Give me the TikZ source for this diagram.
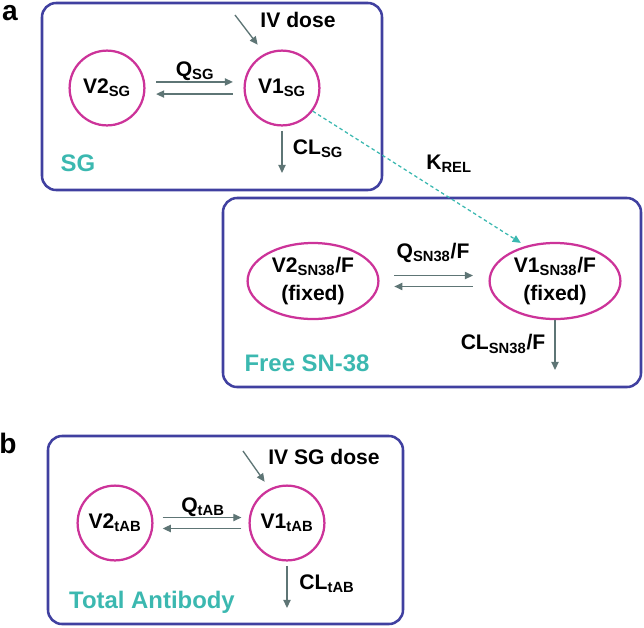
\documentclass[tikz,border=0pt]{standalone}
\usepackage{fontspec}
\setmainfont{Liberation Sans}
\usepackage{xcolor}
\usetikzlibrary{arrows.meta,shapes.geometric,positioning}
\definecolor{boxblue}{RGB}{64,64,160}
\definecolor{compmag}{RGB}{204,51,153}
\definecolor{flowgray}{RGB}{94,117,117}
\definecolor{tealtxt}{RGB}{59,184,176}

\begin{document}
\begin{tikzpicture}[x=0.025cm,y=-0.025cm,
  every node/.style={font=\fontsize{15}{17}\selectfont\bfseries},
  panel/.style={draw=boxblue,line width=1.8pt,rounded corners=10pt},
  comp/.style={draw=compmag,line width=1.6pt,circle,minimum size=1.87cm,inner sep=0pt},
  compell/.style={draw=compmag,line width=1.6pt,ellipse,minimum width=3.27cm,
    minimum height=1.9cm,inner sep=0pt,align=center,font=\fontsize{15}{20}\selectfont\bfseries},
  flow/.style={draw=flowgray,line width=0.95pt,-{Triangle[length=5.8pt,width=5.2pt]}},
  krel/.style={draw=tealtxt,line width=0.9pt,dash pattern=on 2.5pt off 2pt,
    -{Triangle[length=5.8pt,width=5.2pt]}},
  cmpname/.style={text=tealtxt,font=\fontsize{17}{19}\selectfont\bfseries},
  panelno/.style={font=\fontsize{20}{22}\selectfont\bfseries}]
\useasboundingbox (0,0) rectangle (644,627);

% Panel a -- SG
\node[panelno] (lbla) at (10,13) {a};
\draw[panel] (42,3) rectangle (382,190);
\node[comp] (v2sg) at (107,88) {V2\textsubscript{SG}};
\node[comp] (v1sg) at (282,88) {V1\textsubscript{SG}};
\node (qsg) at (195,71) {Q\textsubscript{SG}};
\node (ivdose) at (298,20) {IV dose};
\node (clsg) at (318,149) {CL\textsubscript{SG}};
\node[cmpname] (namesg) at (78,163) {SG};
\coordinate (ivsg) at (235,15);
\coordinate (outsg) at (282,173);
\draw[flow] (ivsg) -- (v1sg.117) [shorten >=8pt];
\draw[flow,shorten <=7.5pt,shorten >=7.5pt] ([yshift=4.3pt]v2sg.east) -- ([yshift=4.3pt]v1sg.west);
\draw[flow,shorten <=7.5pt,shorten >=7.5pt] ([yshift=-4.3pt]v1sg.west) -- ([yshift=-4.3pt]v2sg.east);
\draw[flow,shorten <=3pt] (v1sg.south) -- (outsg);

% Panel a -- free SN-38
\draw[panel] (223,198) rectangle (641,387);
\node[compell] (v2sn) at (313,281) {V2\textsubscript{SN38}/F\\(fixed)};
\node[compell] (v1sn) at (555,281) {V1\textsubscript{SN38}/F\\(fixed)};
\node (qsn) at (433,253) {Q\textsubscript{SN38}/F};
\node (clsn) at (503,344) {CL\textsubscript{SN38}/F};
\node[cmpname] (namesn) at (307,363) {Free SN-38};
\node (lblkrel) at (449,164) {K\textsubscript{REL}};
\coordinate (outsn) at (555,370);
\draw[flow,shorten <=10.5pt,shorten >=11pt] ([yshift=3.9pt]v2sn.east) -- ([yshift=3.9pt]v1sn.west);
\draw[flow,shorten <=11pt,shorten >=10.5pt] ([yshift=-3.9pt]v1sn.west) -- ([yshift=-3.9pt]v2sn.east);
\draw[flow] (v1sn.south) -- (outsn);
\draw[krel,shorten >=4pt] (v1sg.-37) -- (v1sn.130);

% Panel b -- total antibody
\node[panelno] (lblb) at (8,443) {b};
\draw[panel] (48,436) rectangle (403,624);
\node[comp] (v2tab) at (115,523) {V2\textsubscript{tAB}};
\node[comp] (v1tab) at (287,523) {V1\textsubscript{tAB}};
\node (qtab) at (203,507) {Q\textsubscript{tAB}};
\node (ivsgdose) at (324,457) {IV SG dose};
\node (cltab) at (327,584) {CL\textsubscript{tAB}};
\node[cmpname] (nametab) at (152,602) {Total Antibody};
\coordinate (ivtab) at (243,451);
\coordinate (outtab) at (287,608);
\draw[flow,shorten >=6pt] (ivtab) -- (v1tab.117);
\draw[flow,shorten <=6.5pt,shorten >=5pt] ([yshift=3.9pt]v2tab.east) -- ([yshift=3.9pt]v1tab.west);
\draw[flow,shorten <=5pt,shorten >=6.5pt] ([yshift=-3.9pt]v1tab.west) -- ([yshift=-3.9pt]v2tab.east);
\draw[flow,shorten <=3pt] (v1tab.south) -- (outtab);
\end{tikzpicture}
\end{document}
